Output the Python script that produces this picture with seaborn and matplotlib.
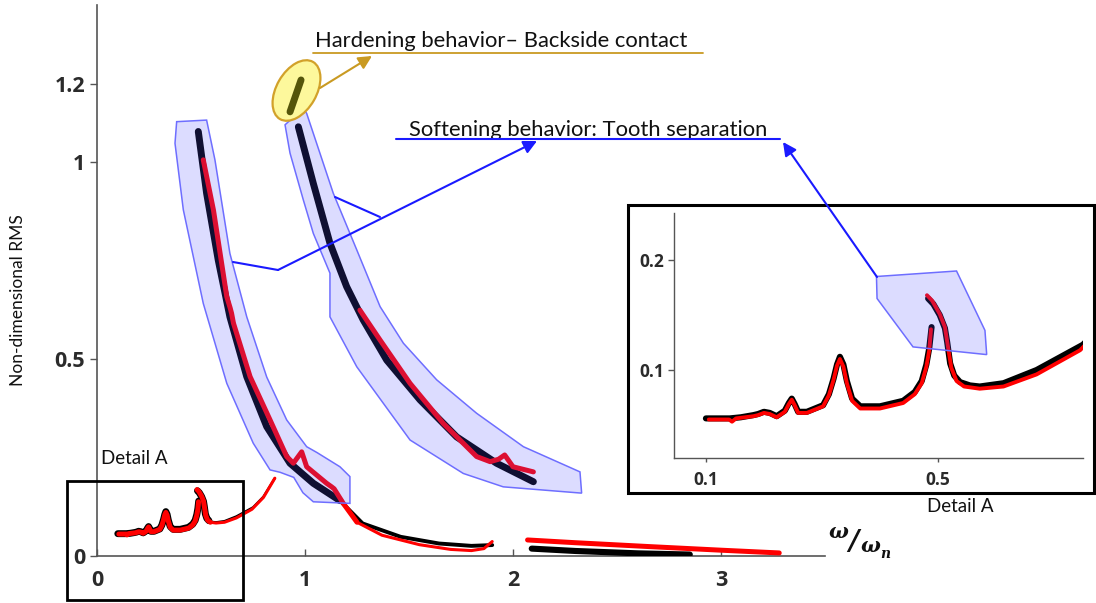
import matplotlib
matplotlib.use("Agg")
import matplotlib.pyplot as plt
import matplotlib.transforms as mtransforms
from matplotlib.patches import Polygon, Ellipse, Rectangle, FancyArrowPatch
from matplotlib.lines import Line2D
from matplotlib.font_manager import FontProperties
import pandas as pd
import seaborn as sns

# ---------------------------------------------------------------- data
# low-frequency branch (super-harmonic region), rising part
low1_black_x = [0.100, 0.141, 0.160, 0.182, 0.190, 0.200, 0.210, 0.222, 0.236, 0.243, 0.248, 0.253, 0.259,
                0.274, 0.302, 0.312, 0.320, 0.326, 0.331, 0.337, 0.343, 0.352, 0.366, 0.400, 0.440,
                0.460, 0.472, 0.480, 0.485, 0.489]
low1_black_y = [0.056, 0.056, 0.057, 0.059, 0.060, 0.062, 0.061, 0.058, 0.063, 0.070, 0.074, 0.069, 0.062,
                0.062, 0.068, 0.078, 0.092, 0.105, 0.112, 0.105, 0.090, 0.074, 0.067, 0.067, 0.072,
                0.080, 0.090, 0.105, 0.120, 0.139]
low1_red_x = [0.105, 0.140, 0.145, 0.152, 0.182, 0.190, 0.200, 0.210, 0.222, 0.236, 0.243, 0.248, 0.253,
              0.259, 0.274, 0.302, 0.312, 0.320, 0.326, 0.331, 0.337, 0.343, 0.352, 0.366, 0.400,
              0.440, 0.460, 0.472, 0.480, 0.485, 0.488]
low1_red_y = [0.055, 0.055, 0.053, 0.056, 0.058, 0.059, 0.061, 0.060, 0.057, 0.062, 0.069, 0.073, 0.068,
              0.061, 0.061, 0.067, 0.077, 0.091, 0.104, 0.110, 0.103, 0.088, 0.072, 0.065, 0.065,
              0.070, 0.078, 0.088, 0.103, 0.118, 0.137]

# low-frequency branch after the jump
low2_black_x = [0.483, 0.492, 0.503, 0.512, 0.516, 0.521, 0.528, 0.538, 0.555, 0.572, 0.613, 0.670, 0.750,
                0.800, 0.855]
low2_black_y = [0.165, 0.160, 0.150, 0.138, 0.125, 0.106, 0.095, 0.089, 0.086, 0.085, 0.088, 0.100, 0.123,
                0.150, 0.197]
low2_red_x = [0.481, 0.490, 0.503, 0.512, 0.517, 0.523, 0.532, 0.545, 0.572, 0.613, 0.670, 0.745,
              0.800, 0.855]
low2_red_y = [0.168, 0.163, 0.151, 0.139, 0.122, 0.102, 0.090, 0.085, 0.083, 0.085, 0.096, 0.118,
              0.148, 0.197]

# primary resonance, lower branch continuing into the tail
left_black_x = [0.487, 0.527, 0.583, 0.639, 0.720, 0.816, 0.928, 1.040, 1.168,
                1.277, 1.460, 1.644, 1.800, 1.900]
left_black_y = [1.078, 0.921, 0.751, 0.607, 0.455, 0.328, 0.235, 0.184, 0.140,
                0.082, 0.048, 0.031, 0.025, 0.027]
left_red_x = [0.511, 0.560, 0.624, 0.640, 0.647, 0.656, 0.736, 0.832, 0.912, 0.944, 0.984, 1.008,
              1.104, 1.128, 1.140, 1.184, 1.250,
              1.370, 1.550, 1.700, 1.800, 1.860, 1.900]
left_red_y = [1.006, 0.878, 0.658, 0.630, 0.616, 0.591, 0.455, 0.345, 0.252, 0.235, 0.264, 0.226,
              0.184, 0.175, 0.170, 0.133, 0.085,
              0.052, 0.028, 0.016, 0.013, 0.018, 0.036]

# primary resonance, upper branch
right_black_x = [0.968, 1.040, 1.120, 1.200, 1.280, 1.393, 1.553, 1.729, 1.921, 2.098]
right_black_y = [1.090, 0.946, 0.794, 0.684, 0.599, 0.497, 0.396, 0.302, 0.235, 0.188]
right_red_x = [1.264, 1.361, 1.505, 1.665, 1.825, 1.890, 1.930, 1.960, 2.000, 2.098]
right_red_y = [0.624, 0.548, 0.438, 0.336, 0.252, 0.239, 0.245, 0.256, 0.226, 0.213]

# high-frequency tail
tail_black_x = [2.090, 2.300, 2.600, 2.850]
tail_black_y = [0.018, 0.012, 0.006, 0.003]
tail_red_x = [2.070, 2.300, 2.660, 3.000, 3.280]
tail_red_y = [0.040, 0.033, 0.023, 0.014, 0.007]

# backside-contact (hardening) segment
hard_x = [0.928, 0.981]
hard_y = [1.128, 1.209]

main_yticks = [0, 0.5, 1, 1.2]
main_yticklabels = ["0", "0.5", "1", "1.2"]
main_xticks = [0, 1, 2, 3]
main_xticklabels = ["0", "1", "2", "3"]
inset_xticks = [0.1, 0.5]
inset_xticklabels = ["0.1", "0.5"]
inset_yticks = [0.1, 0.2]
inset_yticklabels = ["0.1", "0.2"]

# ---------------------------------------------------------------- style
W, H, DPI = 1096, 603, 100
sns.set_theme(style="white")
plt.rcParams["font.family"] = ["Lato", "DejaVu Sans"]

fig = plt.figure(figsize=(W / DPI, H / DPI), dpi=DPI)
PX = mtransforms.Affine2D().scale(1 / W, -1 / H).translate(0, 1) + fig.transFigure


def rect(l, t, r, b):
    return [l / W, 1 - b / H, (r - l) / W, (b - t) / H]


BAND_FACE = (80 / 255, 80 / 255, 1.0, 0.2)
BAND_EDGE = "#6e6eff"
TICK_COL = "#2b2b2b"
SPINE_COL = "#555555"
TICK_FONT_MAIN = FontProperties(family="Open Sans", weight="bold", size=15.5)
TICK_FONT_INSET = FontProperties(family="Open Sans", weight="bold", size=12.5)


def curve(ax, xs, ys, color, lw, z):
    df = pd.DataFrame({"x": xs, "y": ys})
    sns.lineplot(data=df, x="x", y="y", ax=ax, sort=False, estimator=None,
                 color=color, lw=lw, zorder=z, solid_capstyle="round",
                 solid_joinstyle="round")


def sl(seq, lo, hi):
    return seq[lo:hi]


# ---------------------------------------------------------------- main axes
ax = fig.add_axes(rect(97, 4.8, 825, 555.7))

# low-frequency branch: thick inside detail A, thinner beyond
curve(ax, low1_black_x, low1_black_y, "black", 5.0, 3)
curve(ax, low1_red_x, low1_red_y, "red", 3.6, 4)
curve(ax, sl(low2_black_x, 0, 8), sl(low2_black_y, 0, 8), "black", 5.0, 3)
curve(ax, sl(low2_red_x, 0, 8), sl(low2_red_y, 0, 8), "red", 3.6, 4)
curve(ax, sl(low2_black_x, 7, None), sl(low2_black_y, 7, None), "black", 1.6, 3)
curve(ax, sl(low2_red_x, 7, None), sl(low2_red_y, 7, None), "red", 2.2, 4)

# lower resonance branch and its tail
curve(ax, sl(left_black_x, 0, 9), sl(left_black_y, 0, 9), "black", 5.0, 3)
curve(ax, sl(left_black_x, 8, None), sl(left_black_y, 8, None), "black", 2.8, 3)
curve(ax, sl(left_red_x, 0, 17), sl(left_red_y, 0, 17), "red", 3.6, 4)
curve(ax, sl(left_red_x, 16, None), sl(left_red_y, 16, None), "red", 2.2, 4)

# upper resonance branch
curve(ax, right_black_x, right_black_y, "black", 5.0, 3)
curve(ax, right_red_x, right_red_y, "red", 3.6, 4)

# high-frequency tail
curve(ax, tail_black_x, tail_black_y, "black", 4.4, 3)
curve(ax, tail_red_x, tail_red_y, "red", 3.6, 4)

# backside-contact segment, drawn above its marker ellipse
curve(ax, hard_x, hard_y, "#55550a", 5.0, 8)
ax.lines[-1].set_clip_on(False)
ax.add_patch(Ellipse((296.5, 90.5), 66, 40, angle=-60, transform=PX,
                     facecolor="#fdf89c", edgecolor="#d2a12a", lw=1.6, zorder=7,
                     clip_on=False))

# highlighted bands around the two resonance branches
left_band = [(0.383, 1.103), (0.527, 1.107), (0.567, 1.006), (0.639, 0.768), (0.720, 0.607),
             (0.816, 0.454), (0.912, 0.345), (1.008, 0.277), (1.058, 0.262), (1.168, 0.226),
             (1.216, 0.201), (1.216, 0.133), (1.040, 0.137), (0.990, 0.160), (0.946, 0.199),
             (0.880, 0.212), (0.832, 0.218), (0.751, 0.286), (0.624, 0.438), (0.511, 0.641),
             (0.415, 0.879), (0.375, 1.048)]
right_band = [(0.904, 1.095), (0.992, 1.137), (1.008, 1.124), (1.136, 0.921), (1.249, 0.777),
              (1.361, 0.633), (1.473, 0.540), (1.633, 0.447), (1.825, 0.362), (2.050, 0.277),
              (2.322, 0.213), (2.330, 0.159), (1.953, 0.175), (1.761, 0.209), (1.505, 0.294),
              (1.249, 0.480), (1.120, 0.607), (1.120, 0.718), (1.040, 0.819), (0.992, 0.904),
              (0.928, 1.023)]
for pts in (left_band, right_band):
    ax.add_patch(Polygon(pts, closed=True, facecolor=BAND_FACE, edgecolor=BAND_EDGE,
                         lw=1.1, zorder=6))

ax.set_xlim(0, 3.5)
ax.set_ylim(0, 1.40)
for s in ("top", "right"):
    ax.spines[s].set_visible(False)
for s in ("left", "bottom"):
    ax.spines[s].set_color(SPINE_COL)
    ax.spines[s].set_linewidth(1.2)
ax.set_yticks(main_yticks, main_yticklabels)
ax.set_xticks(main_xticks, main_xticklabels)
ax.tick_params(axis="y", direction="out", length=5, width=1, color=SPINE_COL, pad=3.5,
               labelcolor=TICK_COL, left=True)
ax.tick_params(axis="x", direction="in", length=5, width=1, color=SPINE_COL, pad=10,
               labelcolor=TICK_COL, bottom=True)
ax.set_xlabel("")
ax.set_ylabel("")

# ---------------------------------------------------------------- inset (detail A)
ins = fig.add_axes(rect(674, 212.7, 1083, 458))
curve(ins, low1_black_x, low1_black_y, "black", 4.4, 3)
curve(ins, low1_red_x, low1_red_y, "red", 2.8, 4)
curve(ins, low2_black_x, low2_black_y, "black", 4.4, 3)
curve(ins, low2_red_x, low2_red_y, "red", 2.8, 4)
inset_patch = [(0.394, 0.185), (0.532, 0.190), (0.581, 0.136), (0.584, 0.114),
               (0.457, 0.121), (0.395, 0.165)]
ins.add_patch(Polygon(inset_patch, closed=True, facecolor=BAND_FACE, edgecolor=BAND_EDGE,
                      lw=1.1, zorder=6))
ins.set_xlim(0.045, 0.75)
ins.set_ylim(0.02, 0.243)
for s in ("top", "right"):
    ins.spines[s].set_visible(False)
for s in ("left", "bottom"):
    ins.spines[s].set_color(SPINE_COL)
    ins.spines[s].set_linewidth(1.0)
ins.set_xticks(inset_xticks, inset_xticklabels)
ins.set_yticks(inset_yticks, inset_yticklabels)
ins.tick_params(axis="x", direction="out", length=3, width=1, color=SPINE_COL, pad=6.5,
                labelcolor=TICK_COL, bottom=True)
ins.tick_params(axis="y", direction="out", length=4, width=1, color=SPINE_COL, pad=3,
                labelcolor=TICK_COL, left=True)
ins.set_xlabel("")
ins.set_ylabel("")

# bold tick labels, applied once the tick sets are final
fig.canvas.draw()
for a, fp in ((ax, TICK_FONT_MAIN), (ins, TICK_FONT_INSET)):
    for lab in a.get_xticklabels() + a.get_yticklabels():
        lab.set_fontproperties(fp)

# frames around the detail region and the inset
fig.add_artist(Rectangle((628, 205), 466, 288, transform=PX, fill=False,
                         edgecolor="black", lw=2.2, zorder=9))
fig.add_artist(Rectangle((67, 481), 176, 119, transform=PX, fill=False,
                         edgecolor="black", lw=2.0, zorder=9))

# ---------------------------------------------------------------- annotations
BLUE = "#1a1aff"
GOLD = "#c99a22"


def seg(pts, color, lw=1.5):
    xs, ys = zip(*pts)
    fig.add_artist(Line2D(xs, ys, transform=PX, color=color, lw=lw, zorder=10))


def arrow(p0, p1, color):
    fig.add_artist(FancyArrowPatch(p0, p1, transform=PX, arrowstyle="-|>",
                                   mutation_scale=20, color=color, lw=1.5,
                                   shrinkA=0, shrinkB=0, zorder=10))


seg([(233, 262), (278, 270)], BLUE)
arrow((278, 270), (537, 141), BLUE)
seg([(335, 197), (380, 217)], BLUE)
seg([(396, 139), (780, 139)], BLUE)
arrow((877, 277), (783, 142), BLUE)
seg([(313, 53), (703, 53)], GOLD, 1.3)
arrow((320, 88), (372, 56), GOLD)

fig.text(315, 41, "Hardening behavior\u2013 Backside contact", transform=PX,
         fontsize=15.8, color="#111111", ha="left", va="center")
fig.text(409, 130, "Softening behavior: Tooth separation", transform=PX,
         fontsize=15.8, color="#111111", ha="left", va="center")
fig.text(101, 458, "Detail A", transform=PX, fontsize=13.5, color="#111111",
         ha="left", va="center")
fig.text(960, 507, "Detail A", transform=PX, fontsize=13.5, color="#111111",
         ha="center", va="center")
fig.text(18, 300, "Non-dimensional RMS", transform=PX, fontsize=12.5, color="#111111",
         rotation=90, ha="center", va="center")

# x-axis quantity written as a linear fraction
xl = dict(transform=PX, family="DejaVu Serif", style="italic", weight="bold",
          color="#111111", va="center")
fig.text(828, 532, "\u03c9", fontsize=15, ha="left", **xl)
fig.text(853, 543, "/", fontsize=20, ha="center", **xl)
fig.text(860, 546, "\u03c9", fontsize=15, ha="left", **xl)
fig.text(880, 554, "n", fontsize=10, ha="left", **xl)

fig.savefig("out.png", dpi=DPI)
